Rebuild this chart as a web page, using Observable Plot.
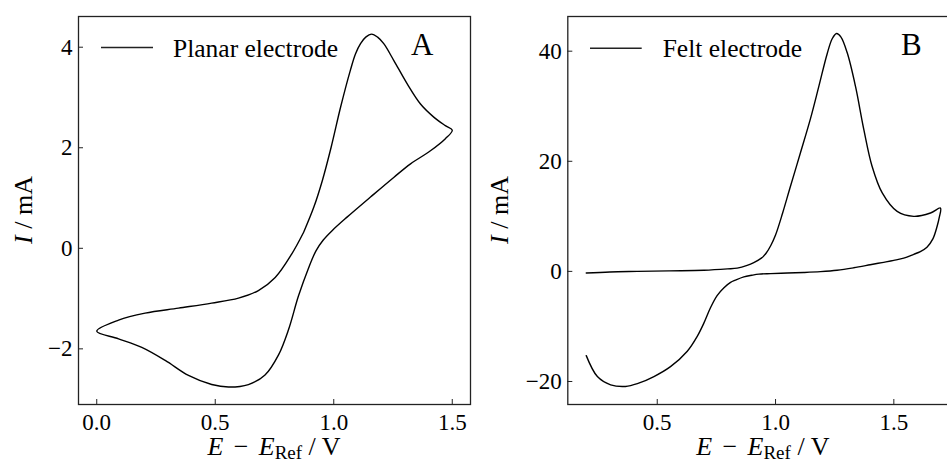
<!DOCTYPE html>
<html>
<head>
<meta charset="utf-8">
<script src="https://cdn.jsdelivr.net/npm/d3@7"></script>
<script src="https://cdn.jsdelivr.net/npm/@observablehq/plot@0.6"></script>
<style>
  html, body { margin: 0; padding: 0; background: #fff; overflow: hidden; }
  #wrap { position: relative; width: 947px; height: 463px; overflow: hidden; }
  #wrap svg { position: absolute; top: 0; overflow: visible; }
</style>
</head>
<body>
<div id="wrap"></div>
<script>
// Panel A: planar electrode (potential in V, current in mA)
const planarE = [0.873,0.916,0.952,0.989,1.029,1.070,1.092,1.113,1.135,1.160,1.185,1.211,1.253,1.310,1.366,1.422,1.471,1.500,
  1.471,1.408,1.324,1.253,1.155,1.056,0.995,0.955,0.925,0.893,0.851,0.809,0.767,0.710,0.640,0.556,0.485,0.387,0.289,0.190,0.092,0.000,
  0.092,0.204,0.345,0.485,0.598,0.682,0.753,0.823,0.873];
const planarI = [0.32,0.82,1.35,2.01,2.81,3.54,3.87,4.07,4.20,4.26,4.20,4.07,3.74,3.27,2.87,2.61,2.44,2.35,
  2.18,1.94,1.68,1.41,1.02,0.62,0.36,0.16,-0.05,-0.40,-0.95,-1.62,-2.12,-2.52,-2.71,-2.76,-2.71,-2.53,-2.23,-1.97,-1.80,-1.65,
  -1.43,-1.29,-1.19,-1.09,-0.99,-0.84,-0.58,-0.11,0.32];

// Panel B: felt electrode
const feltE = [0.200,0.300,0.416,0.550,0.697,0.797,0.838,0.880,0.908,0.940,0.960,0.980,1.000,1.030,1.060,1.105,1.148,1.183,1.218,1.240,1.258,1.276,1.303,1.338,1.373,1.408,1.451,1.514,1.584,1.655,1.697,
  1.692,1.683,1.665,1.640,1.612,1.584,1.542,1.500,1.450,1.400,1.330,1.260,1.190,1.119,1.050,0.979,0.930,0.900,0.866,0.830,0.810,0.781,0.753,0.725,0.697,0.669,0.627,0.556,0.486,0.416,0.366,0.303,0.247,0.200];
const feltI = [-0.3,-0.1,0.0,0.1,0.2,0.45,0.6,1.1,1.6,2.4,3.3,4.7,6.6,10.6,15.0,21.5,27.8,33.6,39.5,42.3,43.2,42.6,39.7,33.6,25.8,19.1,14.25,10.9,10.0,10.6,11.5,
  9.8,8.2,5.9,4.4,3.6,3.1,2.4,2.0,1.6,1.2,0.65,0.2,-0.05,-0.2,-0.3,-0.4,-0.5,-0.7,-1.0,-1.6,-2.0,-3.0,-4.4,-6.6,-9.4,-11.8,-14.5,-17.3,-19.1,-20.4,-20.9,-20.6,-19.1,-15.3];

const xTicksA = [0, 0.5, 1.0, 1.5];
const yTicksA = [-2, 0, 2, 4];
const xTicksB = [0.5, 1.0, 1.5];
const yTicksB = [-20, 0, 20, 40];
const legendA = "Planar electrode";
const legendB = "Felt electrode";

const FONT = "Liberation Serif";
const toRows = (E, I) => E.map((e, i) => ({E: e, I: I[i]}));

function panel({rows, xDomain, yDomain, xTicks, yTicks, width, marginLeft, marginRight}) {
  return Plot.plot({
    width, height: 463,
    marginLeft, marginRight, marginTop: 16, marginBottom: 59,
    style: {fontFamily: FONT, fontSize: "23px", color: "black", background: "transparent", overflow: "visible"},
    x: {domain: xDomain, label: null},
    y: {domain: yDomain, label: null},
    marks: [
      Plot.axisX(xTicks, {tickSize: 5, dy: -5, fill: "none", label: null, stroke: "#222"}),
      Plot.axisX(xTicks, {tickSize: 0, tickPadding: 9, tickFormat: d3.format(".1f"), label: null, fill: "black"}),
      Plot.axisY(yTicks, {tickSize: 5, dx: 5, fill: "none", label: null, stroke: "#222"}),
      Plot.axisY(yTicks, {tickSize: 0, tickPadding: 6, tickFormat: d3.format("d"), label: null, fill: "black"}),
      Plot.line(rows, {x: "E", y: "I", curve: "catmull-rom", stroke: "black", strokeWidth: 1.4}),
      Plot.frame({stroke: "#222", strokeWidth: 1.3})
    ]
  });
}

function decorate(svg, o) {
  const s = d3.select(svg);
  s.append("line").attr("x1", o.lx1).attr("x2", o.lx2).attr("y1", o.ly).attr("y2", o.ly)
    .attr("stroke", "#222").attr("stroke-width", 1.4);
  s.append("text").attr("x", o.tx).attr("y", o.ty).attr("text-anchor", "start")
    .attr("font-family", FONT).attr("font-size", 25.5).attr("fill", "black").text(o.legend);
  s.append("text").attr("x", o.px).attr("y", 55).attr("text-anchor", "start")
    .attr("font-family", FONT).attr("font-size", 31).attr("fill", "black").text(o.letter);
  // x label
  const xl = s.append("text").attr("x", o.xlx).attr("y", 455).attr("text-anchor", "middle")
    .attr("font-family", FONT).attr("font-size", 26).attr("fill", "black");
  xl.append("tspan").attr("font-style", "italic").text("E");
  xl.append("tspan").text("\u2009\u2009−\u2009\u2009");
  xl.append("tspan").attr("font-style", "italic").text("E");
  xl.append("tspan").attr("font-size", 19).attr("dy", 4).text("Ref");
  xl.append("tspan").attr("dy", -4).text(" / V");
  // y label
  const yl = s.append("text").attr("transform", `translate(${o.ylx},210) rotate(-90)`).attr("text-anchor", "middle")
    .attr("font-family", FONT).attr("font-size", 26).attr("fill", "black");
  yl.append("tspan").attr("font-style", "italic").text("I");
  yl.append("tspan").text(" / mA");
}

const wrap = document.getElementById("wrap");

const svgA = panel({rows: toRows(planarE, planarI), xDomain: [-0.077, 1.577], yDomain: [-3.107, 4.611],
  xTicks: xTicksA, yTicks: yTicksA, width: 472, marginLeft: 78, marginRight: 2});
svgA.style.left = "0px";
decorate(svgA, {lx1: 101, lx2: 153, ly: 47.5, tx: 173, ty: 56.5, legend: legendA, px: 411, letter: "A", xlx: 274, ylx: 32});
wrap.appendChild(svgA);

const svgB = panel({rows: toRows(feltE, feltI), xDomain: [0.122, 1.775], yDomain: [-24.18, 46.30],
  xTicks: xTicksB, yTicks: yTicksB, width: 500, marginLeft: 97.3, marginRight: 11.6});
svgB.style.left = "470px";
decorate(svgB, {lx1: 120, lx2: 171.7, ly: 48.3, tx: 192.7, ty: 57, legend: legendB, px: 431, letter: "B", xlx: 292.8, ylx: 38});
wrap.appendChild(svgB);
</script>
</body>
</html>
